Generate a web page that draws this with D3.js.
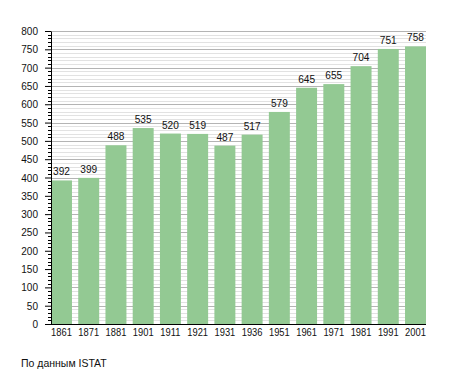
<!DOCTYPE html>
<html><head><meta charset="utf-8">
<script src="https://cdn.jsdelivr.net/npm/d3@7"></script>
<style>body{margin:0;background:#fff}svg{display:block}text{font-family:"Liberation Sans",Arial,sans-serif}</style>
</head><body>
<script>
const years = ["1861","1871","1881","1901","1911","1921","1931","1936","1951","1961","1971","1981","1991","2001"];
const population = [392,399,488,535,520,519,487,517,579,645,655,704,751,758];
const yTicks = [0,50,100,150,200,250,300,350,400,450,500,550,600,650,700,750,800];
const sourceNote = "По данным  ISTAT";

const W=455,H=373;
const svg=d3.select("body").append("svg").attr("width",W).attr("height",H);
const x=d3.scaleBand().domain(years).range([51,426]).paddingInner(0.23).paddingOuter(0);
const y=d3.scaleLinear().domain([0,800]).range([324,31]);

function squeeze(sel,f){
  sel.each(function(){const L=this.getComputedTextLength();
    d3.select(this).attr("textLength",L*f).attr("lengthAdjust","spacingAndGlyphs");});
}

const minor=d3.range(10,800,10).filter(v=>v%50!==0);
svg.append("g").selectAll("line").data(minor).join("line")
 .attr("x1",51).attr("x2",426).attr("y1",d=>Math.round(y(d))+0.5).attr("y2",d=>Math.round(y(d))+0.5)
 .attr("stroke","#e2e2e2").attr("stroke-width",1);
svg.append("g").selectAll("line").data(yTicks.filter(v=>v>0)).join("line")
 .attr("x1",51).attr("x2",426).attr("y1",d=>Math.round(y(d))+0.5).attr("y2",d=>Math.round(y(d))+0.5)
 .attr("stroke","#b4b4b4").attr("stroke-width",1);

svg.append("g").selectAll("rect").data(years).join("rect")
 .attr("x",d=>x(d)).attr("width",x.bandwidth())
 .attr("y",(d,i)=>y(population[i])).attr("height",(d,i)=>y(0)-y(population[i]))
 .attr("fill","#93c993");

const vl=svg.append("g").selectAll("text").data(years).join("text")
 .attr("x",d=>x(d)+x.bandwidth()/2).attr("y",(d,i)=>y(population[i])-5)
 .attr("text-anchor","middle").attr("font-size",11).attr("fill","#111")
 .text((d,i)=>population[i]);
squeeze(vl,0.92);

const ya=svg.append("g").attr("transform","translate(51,0)");
ya.call(d3.axisLeft(y).tickValues(yTicks).tickSize(6).tickPadding(7).tickSizeOuter(0));
ya.append("g").selectAll("line").data(minor).join("line")
 .attr("x1",-3).attr("x2",0).attr("y1",d=>Math.round(y(d))+0.5).attr("y2",d=>Math.round(y(d))+0.5).attr("stroke","#000");
ya.selectAll("text").attr("font-size",11).attr("fill","#111").style("font-family","Liberation Sans, Arial, sans-serif");
squeeze(ya.selectAll("text"),0.91);
ya.select(".domain").attr("stroke","#000");

const xa=svg.append("g").attr("transform","translate(0,324)");
xa.call(d3.axisBottom(x).tickSize(0).tickPadding(4).tickSizeOuter(0));
xa.select(".domain").attr("d","M51,0.5H426").attr("stroke","#000");
xa.selectAll("text").attr("font-size",11).attr("fill","#111").style("font-family","Liberation Sans, Arial, sans-serif");
squeeze(xa.selectAll("text"),0.85);

svg.append("text").attr("x",21).attr("y",367).attr("font-size",10.5).attr("fill","#111").text(sourceNote);
</script>
</body></html>
